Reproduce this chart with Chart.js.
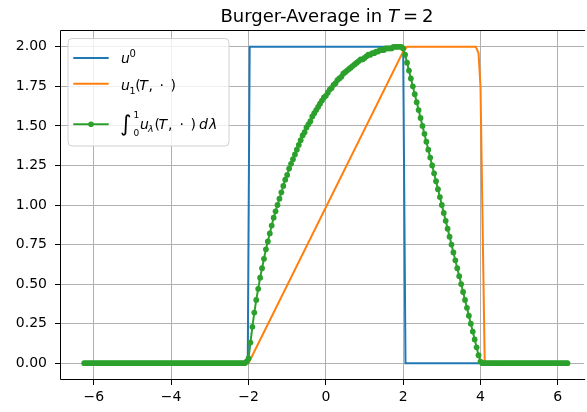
<!DOCTYPE html>
<html><head><meta charset="utf-8">
<script src="https://cdn.jsdelivr.net/npm/chart.js@4.4.1/dist/chart.umd.min.js"></script>
<style>html,body{margin:0;padding:0;background:#fff}canvas{display:block}</style>
</head><body>
<canvas id="c" width="587" height="412"></canvas>
<script>
// ---- data ----
const xTicks = [-6, -4, -2, 0, 2, 4, 6];
const yTicks = [0, 0.25, 0.5, 0.75, 1, 1.25, 1.5, 1.75, 2];

const blueX = [-6.25, -2.02, -1.97, 2.0, 2.06, 6.25];
const blueY = [0, 0, 2, 2, 0, 0];

const orangeX = [-6.25, -2.0, 2.0, 2.1, 3.88, 3.95, 4.0, 4.11, 6.25];
const orangeY = [0, 0, 1.97, 2.0, 2.0, 1.96, 1.75, 0, 0];

const greenX = [
-6.25,-6.2,-6.15,-6.1,-6.05,-6,-5.95,-5.9,-5.85,-5.8,
-5.75,-5.7,-5.65,-5.6,-5.55,-5.5,-5.45,-5.4,-5.35,-5.3,
-5.25,-5.2,-5.15,-5.1,-5.05,-5,-4.95,-4.9,-4.85,-4.8,
-4.75,-4.7,-4.65,-4.6,-4.55,-4.5,-4.45,-4.4,-4.35,-4.3,
-4.25,-4.2,-4.15,-4.1,-4.05,-4,-3.95,-3.9,-3.85,-3.8,
-3.75,-3.7,-3.65,-3.6,-3.55,-3.5,-3.45,-3.4,-3.35,-3.3,
-3.25,-3.2,-3.15,-3.1,-3.05,-3,-2.95,-2.9,-2.85,-2.8,
-2.75,-2.7,-2.65,-2.6,-2.55,-2.5,-2.45,-2.4,-2.35,-2.3,
-2.25,-2.2,-2.15,-2.1,-2.05,
-2,-1.95,-1.9,-1.85,-1.8,-1.75,-1.7,-1.65,-1.6,-1.55,
-1.5,-1.45,-1.4,-1.35,-1.3,-1.25,-1.2,-1.15,-1.1,-1.05,
-1,-0.95,-0.9,-0.85,-0.8,-0.75,-0.7,-0.65,-0.6,-0.55,
-0.5,-0.45,-0.4,-0.35,-0.3,-0.25,-0.2,-0.15,-0.1,-0.05,
0,0.05,0.1,0.15,0.2,0.25,0.3,0.35,0.4,0.45,
0.5,0.55,0.6,0.65,0.7,0.75,0.8,0.85,0.9,0.95,
1,1.05,1.1,1.15,1.2,1.25,1.3,1.35,1.4,1.45,
1.5,1.55,1.6,1.65,1.7,1.75,1.8,1.85,1.9,1.95,
2,2.05,2.1,2.15,2.2,2.25,2.3,2.35,2.4,2.45,
2.5,2.55,2.6,2.65,2.7,2.75,2.8,2.85,2.9,2.95,
3,3.05,3.1,3.15,3.2,3.25,3.3,3.35,3.4,3.45,
3.5,3.55,3.6,3.65,3.7,3.75,3.8,3.85,3.9,3.95,
4,4.05,4.1,4.15,4.2,4.25,4.3,4.35,4.4,4.45,
4.5,4.55,4.6,4.65,4.7,4.75,4.8,4.85,4.9,4.95,
5,5.05,5.1,5.15,5.2,5.25,5.3,5.35,5.4,5.45,
5.5,5.55,5.6,5.65,5.7,5.75,5.8,5.85,5.9,5.95,
6,6.05,6.1,6.15,6.2,6.25
];
const greenY = [
0,0,0,0,0,0,0,0,0,0,
0,0,0,0,0,0,0,0,0,0,
0,0,0,0,0,0,0,0,0,0,
0,0,0,0,0,0,0,0,0,0,
0,0,0,0,0,0,0,0,0,0,
0,0,0,0,0,0,0,0,0,0,
0,0,0,0,0,0,0,0,0,0,
0,0,0,0,0,0,0,0,0,0,
0,0,0,0,0.01,
0.03,0.13,0.23,0.32,0.40,0.47,0.54,0.60,0.66,0.72,
0.77,0.82,0.87,0.92,0.96,1.00,1.04,1.08,1.12,1.16,
1.19,1.23,1.26,1.29,1.32,1.35,1.38,1.41,1.44,1.46,
1.49,1.51,1.53,1.56,1.58,1.60,1.62,1.64,1.66,1.68,
1.69,1.71,1.73,1.74,1.76,1.77,1.79,1.80,1.81,1.83,
1.84,1.85,1.86,1.87,1.88,1.89,1.90,1.91,1.92,1.92,
1.93,1.94,1.95,1.95,1.96,1.96,1.97,1.97,1.98,1.98,
1.98,1.99,1.99,1.99,1.99,2.00,2.00,2.00,2.00,2.00,
1.99,
1.95,1.90,1.85,1.80,1.75,1.70,1.65,1.60,1.55,1.50,
1.45,1.40,1.35,1.30,1.25,1.20,1.15,1.10,1.05,1.00,
0.95,0.90,0.85,0.80,0.75,0.70,0.65,0.60,0.55,0.50,
0.45,0.40,0.35,0.30,0.25,0.20,0.15,0.10,0.05,0.01,
0,0,0,0,0,0,0,0,0,0,
0,0,0,0,0,0,0,0,0,0,
0,0,0,0,0,0,0,0,0,0,
0,0,0,0,0,0,0,0,0,0,
0,0,0,0,0
];

const C0 = '#1f77b4', C1 = '#ff7f0e', C2 = '#2ca02c';
const FAM = '"DejaVu Sans"';

function pts(xs, ys) { return xs.map((x, i) => ({ x: x, y: ys[i] })); }

// draw text runs; each run: {t, x (offset), s (size), it, dy}
function drawRuns(ctx, x0, base, runs) {
  ctx.save();
  ctx.fillStyle = '#000';
  ctx.textBaseline = 'alphabetic';
  ctx.textAlign = 'left';
  runs.forEach(r => {
    ctx.font = (r.it ? 'italic ' : '') + (r.s || 14) + 'px ' + FAM;
    ctx.fillText(r.t, x0 + r.x, base + (r.dy || 0));
  });
  ctx.restore();
}

function flowRuns(ctx, xc, base, runs) {
  ctx.save();
  ctx.fillStyle = '#000';
  ctx.textBaseline = 'alphabetic';
  ctx.textAlign = 'left';
  let w = 0;
  const ws = runs.map(r => {
    ctx.font = (r.it ? 'italic ' : '') + r.s + 'px ' + FAM;
    const m = ctx.measureText(r.t).width + (r.gap || 0);
    w += m; return m;
  });
  let x = xc - w / 2;
  runs.forEach((r, i) => {
    ctx.font = (r.it ? 'italic ' : '') + r.s + 'px ' + FAM;
    ctx.fillText(r.t, x, base);
    x += ws[i];
  });
  ctx.restore();
}

const decor = {
  id: 'decor',
  afterDatasetsDraw(chart) {
    const ctx = chart.ctx, ca = chart.chartArea;
    // spines
    ctx.save();
    ctx.strokeStyle = '#000';
    ctx.lineWidth = 1;
    ctx.beginPath();
    ctx.moveTo(ca.left - 0.5, ca.bottom + 0.5);
    ctx.lineTo(ca.left - 0.5, ca.top - 0.5);
    ctx.lineTo(ca.right + 1, ca.top - 0.5);
    ctx.moveTo(ca.left - 0.5, ca.bottom + 0.5);
    ctx.lineTo(ca.right + 1, ca.bottom + 0.5);
    ctx.stroke();
    ctx.restore();

    // legend box
    const lx = 68, ly = 38.5, lw = 161, lh = 107.5, r = 4;
    ctx.save();
    ctx.beginPath();
    ctx.moveTo(lx + r, ly);
    ctx.lineTo(lx + lw - r, ly);
    ctx.quadraticCurveTo(lx + lw, ly, lx + lw, ly + r);
    ctx.lineTo(lx + lw, ly + lh - r);
    ctx.quadraticCurveTo(lx + lw, ly + lh, lx + lw - r, ly + lh);
    ctx.lineTo(lx + r, ly + lh);
    ctx.quadraticCurveTo(lx, ly + lh, lx, ly + lh - r);
    ctx.lineTo(lx, ly + r);
    ctx.quadraticCurveTo(lx, ly, lx + r, ly);
    ctx.closePath();
    ctx.fillStyle = 'rgba(255,255,255,0.8)';
    ctx.fill();
    ctx.strokeStyle = '#d0d0d0';
    ctx.lineWidth = 1;
    ctx.stroke();

    // handles
    const hx0 = 73.3, hx1 = 108.7;
    ctx.lineWidth = 2;
    [[C0, 58], [C1, 83.7], [C2, 124.3]].forEach(([c, y]) => {
      ctx.strokeStyle = c;
      ctx.beginPath(); ctx.moveTo(hx0, y); ctx.lineTo(hx1, y); ctx.stroke();
    });
    ctx.fillStyle = C2;
    ctx.beginPath(); ctx.arc(91, 124.3, 2.8, 0, Math.PI * 2); ctx.fill();
    ctx.restore();

    const tx = 121;
    drawRuns(ctx, tx, 62.7, [
      { t: 'u', x: 0, it: true },
      { t: '0', x: 8.6, s: 10, dy: -5.5 }
    ]);
    drawRuns(ctx, tx, 90.3, [
      { t: 'u', x: 0, it: true },
      { t: '1', x: 8.4, s: 9.5, dy: 3.5 },
      { t: '(', x: 14.2 },
      { t: 'T', x: 18.2, it: true },
      { t: ',', x: 27.5 },
      { t: '\u00b7', x: 38.5 },
      { t: ')', x: 49.5 }
    ]);
    drawRuns(ctx, tx, 129.3, [
      { t: '\u222b', x: -1, s: 22, dy: 2 },
      { t: '1', x: 12.5, s: 9, dy: -11.6 },
      { t: '0', x: 12.5, s: 9, dy: 6.2 },
      { t: 'u', x: 19, it: true },
      { t: '\u03bb', x: 26.9, s: 9.5, it: true, dy: 3 },
      { t: '(', x: 33.5 },
      { t: 'T', x: 37.5, it: true },
      { t: ',', x: 47 },
      { t: '\u00b7', x: 58.5 },
      { t: ')', x: 69.5 },
      { t: 'd', x: 78, it: true },
      { t: '\u03bb', x: 88, it: true }
    ]);

    // title
    flowRuns(ctx, 327, 21.5, [
      { t: 'Burger-Average in ', s: 18 },
      { t: 'T', s: 18, it: true, gap: 4 },
      { t: '=', s: 18, gap: 4 },
      { t: '2', s: 18 }
    ]);
  }
};

const tickFont = { family: 'DejaVu Sans', size: 14 };

new Chart(document.getElementById('c'), {
  type: 'line',
  data: {
    datasets: [
      { label: 'u0', data: pts(blueX, blueY), borderColor: C0, backgroundColor: C0,
        borderWidth: 2, pointRadius: 0, tension: 0, order: 2 },
      { label: 'u1(T,.)', data: pts(orangeX, orangeY), borderColor: C1, backgroundColor: C1,
        borderWidth: 2, pointRadius: 0, tension: 0, order: 1 },
      { label: 'avg', data: pts(greenX, greenY), borderColor: C2, backgroundColor: C2,
        borderWidth: 2, pointRadius: 2.9, pointBorderWidth: 0, pointBackgroundColor: C2,
        pointHoverRadius: 2.9, tension: 0, order: 0 }
    ]
  },
  options: {
    responsive: false,
    animation: false,
    devicePixelRatio: 1,
    layout: { padding: { top: 31, left: 0, right: 0, bottom: 0 } },
    plugins: { legend: { display: false }, title: { display: false }, tooltip: { enabled: false } },
    scales: {
      x: {
        type: 'linear', min: -6.85, max: 6.68,
        afterBuildTicks: s => { s.ticks = xTicks.map(v => ({ value: v })); },
        afterFit: s => { s.height = 33; },
        grid: { color: '#b0b0b0', lineWidth: 1, tickColor: '#000', tickLength: 6 },
        border: { display: false },
        ticks: { font: tickFont, color: '#000', padding: 4, maxRotation: 0, autoSkip: false,
          callback: v => (v < 0 ? '\u2212' + (-v) : String(v)) }
      },
      y: {
        type: 'linear', min: -0.1, max: 2.1,
        afterBuildTicks: s => { s.ticks = yTicks.map(v => ({ value: v })); },
        afterFit: s => { s.width = 61; },
        grid: { color: '#b0b0b0', lineWidth: 1, tickColor: '#000', tickLength: 6 },
        border: { display: false },
        ticks: { font: tickFont, color: '#000', padding: 8, autoSkip: false,
          callback: v => Number(v).toFixed(2) }
      }
    }
  },
  plugins: [decor]
});
</script>
</body></html>
